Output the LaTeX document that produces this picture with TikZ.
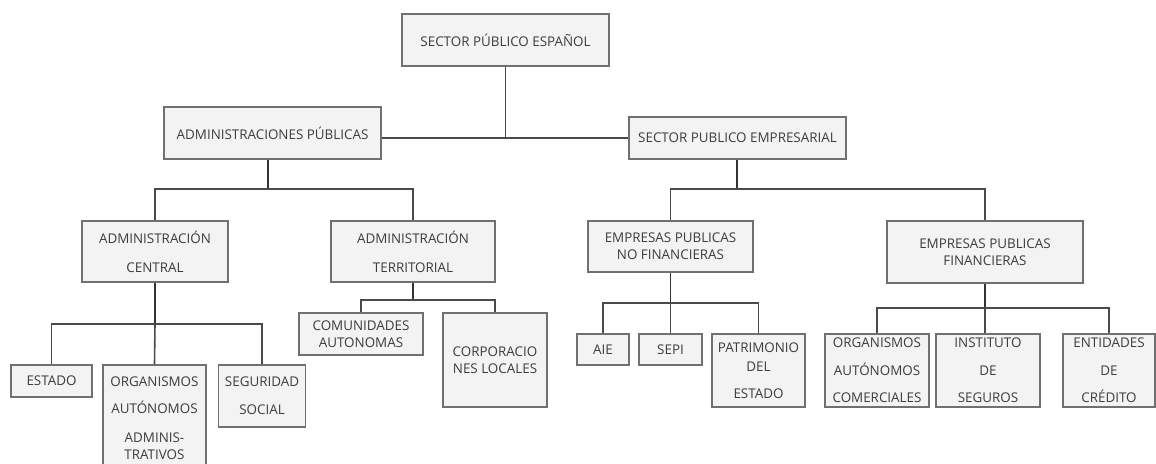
\documentclass[tikz,border=0pt]{standalone}
\usepackage{fontspec}
\setmainfont{Open Sans}
\usepackage{tikz}
\usetikzlibrary{positioning}
\definecolor{boxfill}{HTML}{F3F3F3}
\definecolor{boxline}{HTML}{707070}
\definecolor{linkline}{HTML}{4A4A4A}
\definecolor{boxtext}{HTML}{3C3C3C}

\begin{document}
\begin{tikzpicture}[
  x=1pt,y=-1pt,
  font=\fontsize{13.4}{17}\selectfont,
  box/.style={draw=boxline, fill=boxfill, line width=1.6pt, inner sep=0pt,
              align=center, text=boxtext},
  link/.style={draw=linkline, line width=1.6pt},
  trunk/.style={link, draw=black!80, line width=1.9pt}
]
  \useasboundingbox (0,0) rectangle (1156,463);

  % nivel 0 y 1
  \node[box, minimum width=207pt, minimum height=52pt] (spe) at (505.5,40) {SECTOR PÚBLICO ESPAÑOL};
  \node[box, minimum width=217pt, minimum height=52pt] (ap) at (272.5,133) {ADMINISTRACIONES PÚBLICAS};
  \node[box, minimum width=217pt, minimum height=42pt] (spem) at (737.5,138) {SECTOR PUBLICO EMPRESARIAL};

  % nivel 2
  \node[box, minimum width=146pt, minimum height=61pt] (ac) at (155,251.5) {ADMINISTRACIÓN\\[12pt]CENTRAL};
  \node[box, minimum width=164pt, minimum height=61pt] (at) at (413,251.5) {ADMINISTRACIÓN\\[12pt]TERRITORIAL};
  \node[box, minimum width=165pt, minimum height=51pt] (epnf) at (670.5,246.5) {EMPRESAS PUBLICAS\\NO FINANCIERAS};
  \node[box, minimum width=196pt, minimum height=62pt] (epf) at (985,252) {EMPRESAS PUBLICAS\\FINANCIERAS};

  % nivel 3
  \node[box, minimum width=81pt, minimum height=32pt] (estado) at (51.5,381) {ESTADO};
  \node[box, minimum width=103pt, minimum height=106pt] (oaa) at (154.5,418) {ORGANISMOS\\[10pt]AUTÓNOMOS\\[12pt]ADMINIS-\\TRATIVOS};
  \node[box, minimum width=87pt, minimum height=62pt] (ss) at (262,396) {SEGURIDAD\\[11pt]SOCIAL};
  \node[box, minimum width=124pt, minimum height=42pt] (ca) at (361,334) {COMUNIDADES\\AUTONOMAS};
  \node[box, minimum width=104pt, minimum height=94pt] (cl) at (495,360) {CORPORACIO\\NES LOCALES};
  \node[box, minimum width=52pt, minimum height=31pt] (aie) at (603,349.5) {AIE};
  \node[box, minimum width=63pt, minimum height=31pt] (sepi) at (670.5,349.5) {SEPI};
  \node[box, minimum width=93pt, minimum height=73pt] (pat) at (758.5,370.5) {PATRIMONIO\\[2pt]DEL\\[10pt]ESTADO};
  \node[box, minimum width=104pt, minimum height=73pt] (oac) at (877,370.5) {ORGANISMOS\\[11pt]AUTÓNOMOS\\[10pt]COMERCIALES};
  \node[box, minimum width=104pt, minimum height=73pt] (ids) at (988,370.5) {INSTITUTO\\[11pt]DE\\[10pt]SEGUROS};
  \node[box, minimum width=92pt, minimum height=73pt] (edc) at (1109,370.5) {ENTIDADES\\[11pt]DE\\[10pt]CRÉDITO};

  % uniones
  \coordinate (j0) at (spe.south |- spem.west);
  \coordinate (j1) at (268,189);
  \coordinate (j2) at (737,189);
  \coordinate (j3) at (155,324);
  \coordinate (j4) at (413,300);
  \coordinate (j5) at (670.5,303);
  \coordinate (j6) at (985,308);

  \draw[link] (spe.south) -- (j0);
  \draw[link] (ap.east |- j0) -- (spem.west);

  \draw[trunk] (j1 |- ap.south) -- (j1);
  \draw[link] (ac.north) |- (j1) -| (at.north);
  \draw[trunk] (j2 |- spem.south) -- (j2);
  \draw[link] (epnf.north) |- (j2) -| (epf.north);

  \draw[trunk] (ac.south) -- (j3);
  \draw[link] (estado.north) |- (j3) -| (ss.north);
  \draw[link] (j3) -- (oaa.north);

  \draw[trunk] (at.south) -- (j4);
  \draw[link] (ca.north) |- (j4) -| (cl.north);

  \draw[trunk] (epnf.south) -- (j5);
  \draw[link] (aie.north) |- (j5) -| (pat.north);
  \draw[link] (j5) -- (sepi.north);

  \draw[trunk] (epf.south) -- (j6);
  \draw[link] (oac.north) |- (j6) -| (edc.north);
  \draw[link] (j6) -- (j6 |- ids.north);
\end{tikzpicture}
\end{document}
